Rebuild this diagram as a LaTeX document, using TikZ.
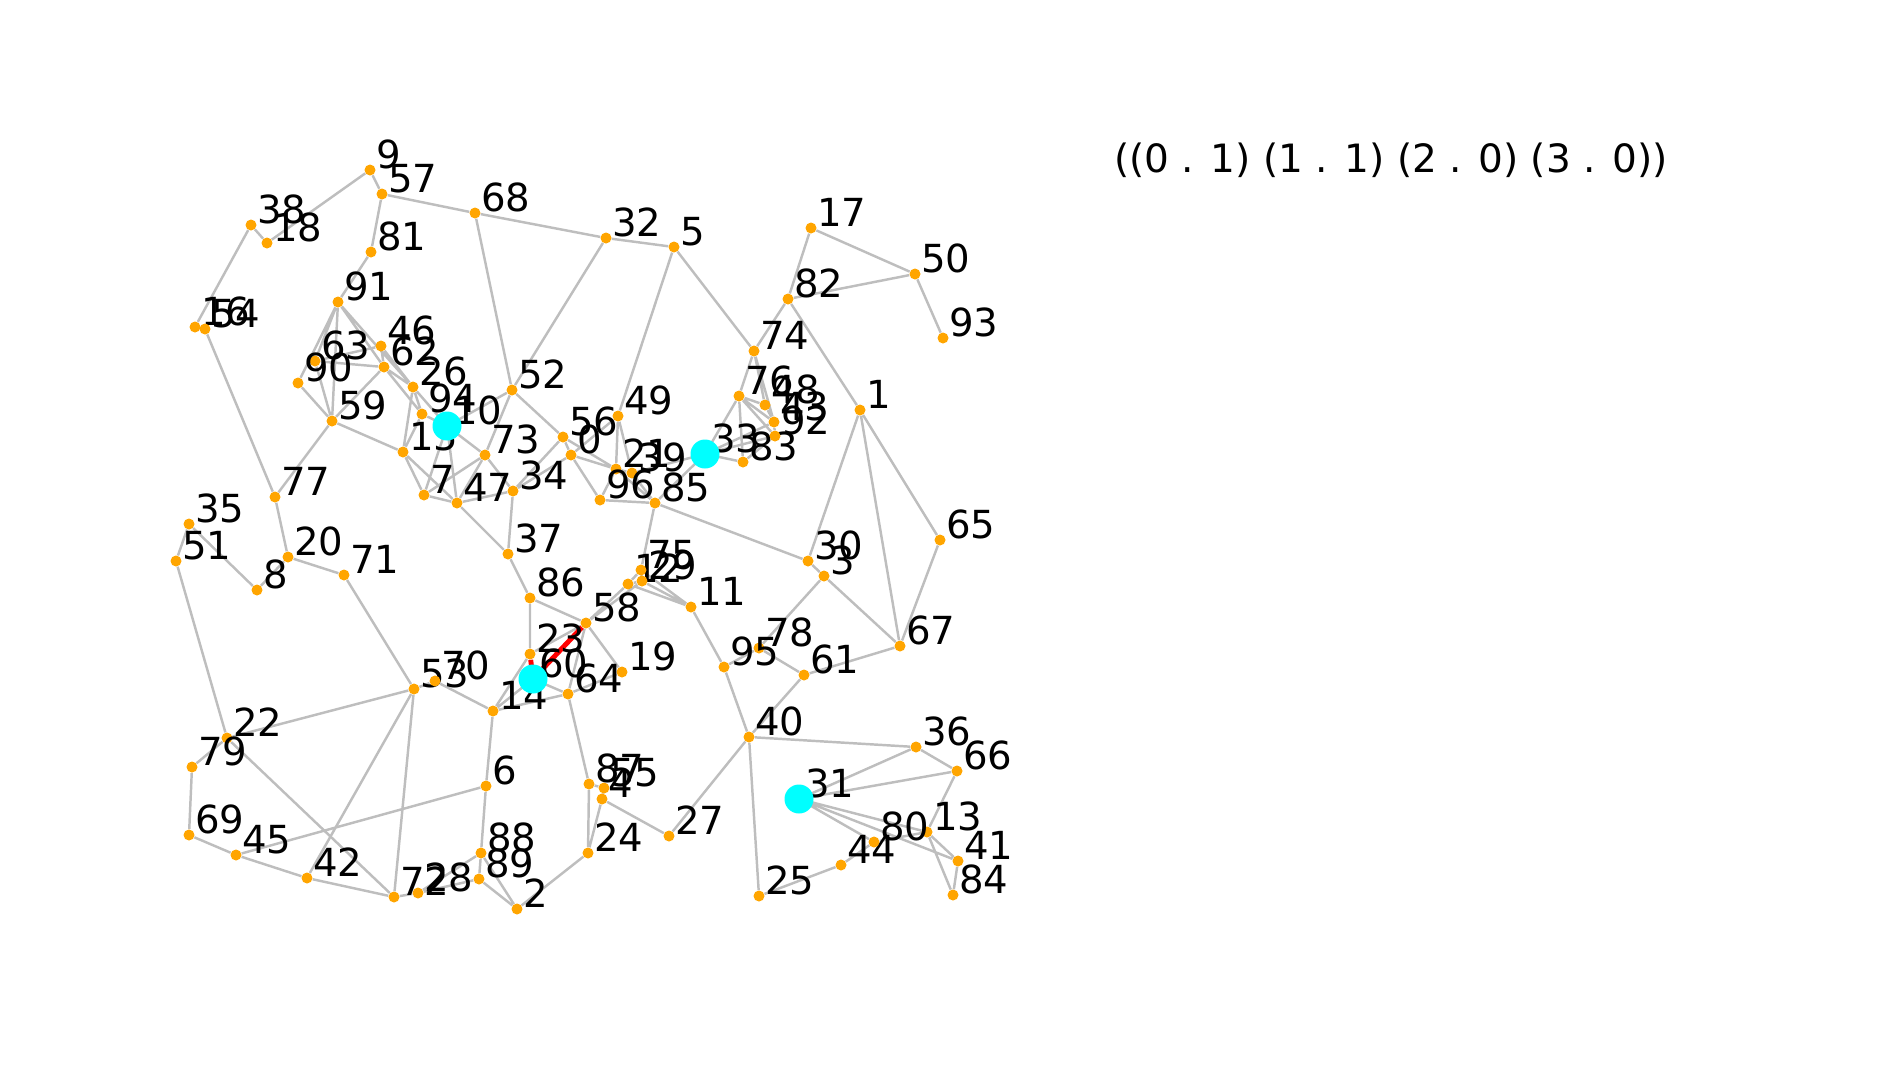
\documentclass[tikz,border=0pt]{standalone}
\usepackage{fontspec}
\setmainfont{DejaVu Sans}
\pgfdeclarelayer{edges}
\pgfsetlayers{edges,main}
\definecolor{gOrange}{HTML}{FFA500}
\definecolor{gSilver}{HTML}{BEBEBE}
\definecolor{gCyan}{HTML}{00FFFF}
\tikzset{
  gdot/.style={circle, fill=gOrange, minimum size=0.22cm, inner sep=0pt},
  gseed/.style={circle, fill=gCyan, minimum size=0.58cm, inner sep=0pt},
  glab/.style={font=\fontsize{22}{26}\selectfont, anchor=base west, inner sep=0pt, yshift=0.04cm},
  gedge/.style={draw=gSilver, line width=1.4pt},
  gpath/.style={draw=red, line width=2.8pt},
  gtext/.style={font=\fontsize{22.2}{26}\selectfont, anchor=base west, inner sep=0pt},
}
\begin{document}
\begin{tikzpicture}[x=0.02cm, y=-0.02cm]
  \useasboundingbox (0,0) rectangle (1887,1080);
  \node[gdot, label={[glab]right:0}] (n0) at (571,455) {};
  \node[gdot, label={[glab]right:1}] (n1) at (860,410) {};
  \node[gdot, label={[glab]right:2}] (n2) at (517,909) {};
  \node[gdot, label={[glab]right:3}] (n3) at (824,576) {};
  \node[gdot, label={[glab]right:4}] (n4) at (602,799) {};
  \node[gdot, label={[glab]right:5}] (n5) at (674,247) {};
  \node[gdot, label={[glab]right:6}] (n6) at (486,786) {};
  \node[gdot, label={[glab]right:7}] (n7) at (424,495) {};
  \node[gdot, label={[glab]right:8}] (n8) at (257,590) {};
  \node[gdot, label={[glab]right:9}] (n9) at (370,170) {};
  \node[gdot, label={[glab]right:10}] (n10) at (447,426) {};
  \node[gdot, label={[glab]right:11}] (n11) at (691,607) {};
  \node[gdot, label={[glab]right:12}] (n12) at (628,584) {};
  \node[gdot, label={[glab]right:13}] (n13) at (927,832) {};
  \node[gdot, label={[glab]right:14}] (n14) at (493,711) {};
  \node[gdot, label={[glab]right:15}] (n15) at (403,452) {};
  \node[gdot, label={[glab]right:16}] (n16) at (195,327) {};
  \node[gdot, label={[glab]right:17}] (n17) at (811,228) {};
  \node[gdot, label={[glab]right:18}] (n18) at (267,243) {};
  \node[gdot, label={[glab]right:19}] (n19) at (622,672) {};
  \node[gdot, label={[glab]right:20}] (n20) at (288,557) {};
  \node[gdot, label={[glab]right:21}] (n21) at (616,469) {};
  \node[gdot, label={[glab]right:22}] (n22) at (227,738) {};
  \node[gdot, label={[glab]right:23}] (n23) at (530,654) {};
  \node[gdot, label={[glab]right:24}] (n24) at (588,853) {};
  \node[gdot, label={[glab]right:25}] (n25) at (759,896) {};
  \node[gdot, label={[glab]right:26}] (n26) at (413,387) {};
  \node[gdot, label={[glab]right:27}] (n27) at (669,836) {};
  \node[gdot, label={[glab]right:28}] (n28) at (418,893) {};
  \node[gdot, label={[glab]right:29}] (n29) at (642,581) {};
  \node[gdot, label={[glab]right:30}] (n30) at (808,561) {};
  \node[gdot, label={[glab]right:31}] (n31) at (799,799) {};
  \node[gdot, label={[glab]right:32}] (n32) at (606,238) {};
  \node[gdot, label={[glab]right:33}] (n33) at (705,454) {};
  \node[gdot, label={[glab]right:34}] (n34) at (513,491) {};
  \node[gdot, label={[glab]right:35}] (n35) at (189,524) {};
  \node[gdot, label={[glab]right:36}] (n36) at (916,747) {};
  \node[gdot, label={[glab]right:37}] (n37) at (508,554) {};
  \node[gdot, label={[glab]right:38}] (n38) at (251,225) {};
  \node[gdot, label={[glab]right:39}] (n39) at (632,473) {};
  \node[gdot, label={[glab]right:40}] (n40) at (749,737) {};
  \node[gdot, label={[glab]right:41}] (n41) at (958,861) {};
  \node[gdot, label={[glab]right:42}] (n42) at (307,878) {};
  \node[gdot, label={[glab]right:43}] (n43) at (774,422) {};
  \node[gdot, label={[glab]right:44}] (n44) at (841,865) {};
  \node[gdot, label={[glab]right:45}] (n45) at (236,855) {};
  \node[gdot, label={[glab]right:46}] (n46) at (381,346) {};
  \node[gdot, label={[glab]right:47}] (n47) at (457,503) {};
  \node[gdot, label={[glab]right:48}] (n48) at (765,405) {};
  \node[gdot, label={[glab]right:49}] (n49) at (618,416) {};
  \node[gdot, label={[glab]right:50}] (n50) at (915,274) {};
  \node[gdot, label={[glab]right:51}] (n51) at (176,561) {};
  \node[gdot, label={[glab]right:52}] (n52) at (512,390) {};
  \node[gdot, label={[glab]right:53}] (n53) at (414,689) {};
  \node[gdot, label={[glab]right:54}] (n54) at (205,329) {};
  \node[gdot, label={[glab]right:55}] (n55) at (604,788) {};
  \node[gdot, label={[glab]right:56}] (n56) at (563,437) {};
  \node[gdot, label={[glab]right:57}] (n57) at (382,194) {};
  \node[gdot, label={[glab]right:58}] (n58) at (586,623) {};
  \node[gdot, label={[glab]right:59}] (n59) at (332,421) {};
  \node[gdot, label={[glab]right:60}] (n60) at (533,679) {};
  \node[gdot, label={[glab]right:61}] (n61) at (804,675) {};
  \node[gdot, label={[glab]right:62}] (n62) at (384,367) {};
  \node[gdot, label={[glab]right:63}] (n63) at (315,361) {};
  \node[gdot, label={[glab]right:64}] (n64) at (568,694) {};
  \node[gdot, label={[glab]right:65}] (n65) at (940,540) {};
  \node[gdot, label={[glab]right:66}] (n66) at (957,771) {};
  \node[gdot, label={[glab]right:67}] (n67) at (900,646) {};
  \node[gdot, label={[glab]right:68}] (n68) at (475,213) {};
  \node[gdot, label={[glab]right:69}] (n69) at (189,835) {};
  \node[gdot, label={[glab]right:70}] (n70) at (435,681) {};
  \node[gdot, label={[glab]right:71}] (n71) at (344,575) {};
  \node[gdot, label={[glab]right:72}] (n72) at (394,897) {};
  \node[gdot, label={[glab]right:73}] (n73) at (485,455) {};
  \node[gdot, label={[glab]right:74}] (n74) at (754,351) {};
  \node[gdot, label={[glab]right:75}] (n75) at (641,570) {};
  \node[gdot, label={[glab]right:76}] (n76) at (739,396) {};
  \node[gdot, label={[glab]right:77}] (n77) at (275,497) {};
  \node[gdot, label={[glab]right:78}] (n78) at (759,648) {};
  \node[gdot, label={[glab]right:79}] (n79) at (192,767) {};
  \node[gdot, label={[glab]right:80}] (n80) at (874,842) {};
  \node[gdot, label={[glab]right:81}] (n81) at (371,252) {};
  \node[gdot, label={[glab]right:82}] (n82) at (788,299) {};
  \node[gdot, label={[glab]right:83}] (n83) at (743,462) {};
  \node[gdot, label={[glab]right:84}] (n84) at (953,895) {};
  \node[gdot, label={[glab]right:85}] (n85) at (655,503) {};
  \node[gdot, label={[glab]right:86}] (n86) at (530,598) {};
  \node[gdot, label={[glab]right:87}] (n87) at (589,784) {};
  \node[gdot, label={[glab]right:88}] (n88) at (481,853) {};
  \node[gdot, label={[glab]right:89}] (n89) at (479,879) {};
  \node[gdot, label={[glab]right:90}] (n90) at (298,383) {};
  \node[gdot, label={[glab]right:91}] (n91) at (338,302) {};
  \node[gdot, label={[glab]right:92}] (n92) at (775,436) {};
  \node[gdot, label={[glab]right:93}] (n93) at (943,338) {};
  \node[gdot, label={[glab]right:94}] (n94) at (422,414) {};
  \node[gdot, label={[glab]right:95}] (n95) at (724,667) {};
  \node[gdot, label={[glab]right:96}] (n96) at (600,500) {};
  % seeds
  \node[gseed] (s10) at (n10) {};
  \node[gseed] (s33) at (n33) {};
  \node[gseed] (s60) at (n60) {};
  \node[gseed] (s31) at (n31) {};
  \node[gtext] (pairs) at (1114,172) {((0 . 1) (1 . 1) (2 . 0) (3 . 0))};
  \begin{pgfonlayer}{edges}
    \draw[gedge] (n9) -- (n57) (n9) -- (n18) (n38) -- (n18) (n38) -- (n16) (n57) -- (n68) (n57) -- (n81)
      (n81) -- (n91) (n68) -- (n32) (n32) -- (n5) (n68) -- (n52) (n32) -- (n52) (n5) -- (n49) (n5) -- (n74)
      (n17) -- (n50) (n17) -- (n82) (n82) -- (n50) (n50) -- (n93) (n82) -- (n74) (n82) -- (n1);
    \draw[gedge] (n91) -- (n90) (n91) -- (n63) (n91) -- (n59) (n91) -- (n62) (n91) -- (n26) (n63) -- (n46)
      (n63) -- (n62) (n90) -- (n59) (n63) -- (n59) (n62) -- (n59) (n46) -- (n62) (n46) -- (n26) (n62) -- (n26)
      (n62) -- (n94) (n26) -- (n94) (n26) -- (n15) (n94) -- (n15) (n26) -- (n10) (n94) -- (n10) (n59) -- (n15)
      (n59) -- (n77);
    \draw[gedge] (n15) -- (n7) (n15) -- (n47) (n10) -- (n7) (n10) -- (n47) (n10) -- (n73) (n10) -- (n52)
      (n52) -- (n73) (n73) -- (n7) (n73) -- (n47) (n73) -- (n34) (n7) -- (n47) (n47) -- (n34) (n47) -- (n37)
      (n34) -- (n37);
    \draw[gedge] (n52) -- (n56) (n34) -- (n56) (n34) -- (n0) (n56) -- (n0) (n0) -- (n49) (n56) -- (n21)
      (n0) -- (n21) (n0) -- (n96) (n49) -- (n21) (n49) -- (n39) (n21) -- (n96) (n21) -- (n39) (n21) -- (n85)
      (n39) -- (n85) (n96) -- (n85) (n39) -- (n33) (n85) -- (n33);
    \draw[gedge] (n33) -- (n76) (n33) -- (n83) (n33) -- (n43) (n33) -- (n92) (n76) -- (n48) (n76) -- (n43)
      (n76) -- (n92) (n76) -- (n83) (n74) -- (n76) (n74) -- (n48) (n74) -- (n43) (n48) -- (n43) (n43) -- (n92)
      (n92) -- (n83);
    \draw[gedge] (n1) -- (n30) (n1) -- (n67) (n1) -- (n65) (n65) -- (n67) (n85) -- (n30) (n30) -- (n3)
      (n3) -- (n67) (n3) -- (n78) (n67) -- (n61);
    \draw[gedge] (n54) -- (n77) (n77) -- (n20) (n35) -- (n51) (n35) -- (n8) (n20) -- (n8) (n20) -- (n71)
      (n71) -- (n53) (n53) -- (n70) (n70) -- (n14) (n51) -- (n22) (n22) -- (n53) (n22) -- (n79) (n22) -- (n72)
      (n79) -- (n69) (n69) -- (n45) (n45) -- (n42) (n45) -- (n6) (n42) -- (n53) (n42) -- (n72) (n53) -- (n72)
      (n72) -- (n28) (n28) -- (n88) (n28) -- (n89) (n88) -- (n6) (n88) -- (n89) (n88) -- (n2) (n89) -- (n2)
      (n2) -- (n24) (n14) -- (n6);
    \draw[gedge] (n37) -- (n86) (n86) -- (n23) (n86) -- (n58) (n23) -- (n58) (n14) -- (n23) (n14) -- (n60)
      (n14) -- (n64) (n60) -- (n64) (n58) -- (n64) (n58) -- (n19) (n64) -- (n19) (n64) -- (n87) (n58) -- (n12)
      (n58) -- (n29) (n12) -- (n75) (n12) -- (n29) (n75) -- (n29) (n12) -- (n11) (n29) -- (n11) (n75) -- (n11)
      (n85) -- (n75) (n11) -- (n95) (n95) -- (n78) (n95) -- (n40) (n78) -- (n61) (n61) -- (n40);
    \draw[gedge] (n40) -- (n36) (n40) -- (n27) (n40) -- (n25) (n27) -- (n4) (n87) -- (n24) (n4) -- (n24)
      (n87) -- (n55) (n55) -- (n4) (n36) -- (n31) (n36) -- (n66) (n31) -- (n66) (n66) -- (n13) (n31) -- (n80)
      (n31) -- (n13) (n31) -- (n41) (n80) -- (n13) (n13) -- (n41) (n13) -- (n84) (n41) -- (n84) (n44) -- (n80)
      (n25) -- (n44);
    \draw[gpath] (n23) -- (n60) (n60) -- (n58);
  \end{pgfonlayer}
\end{tikzpicture}
\end{document}
